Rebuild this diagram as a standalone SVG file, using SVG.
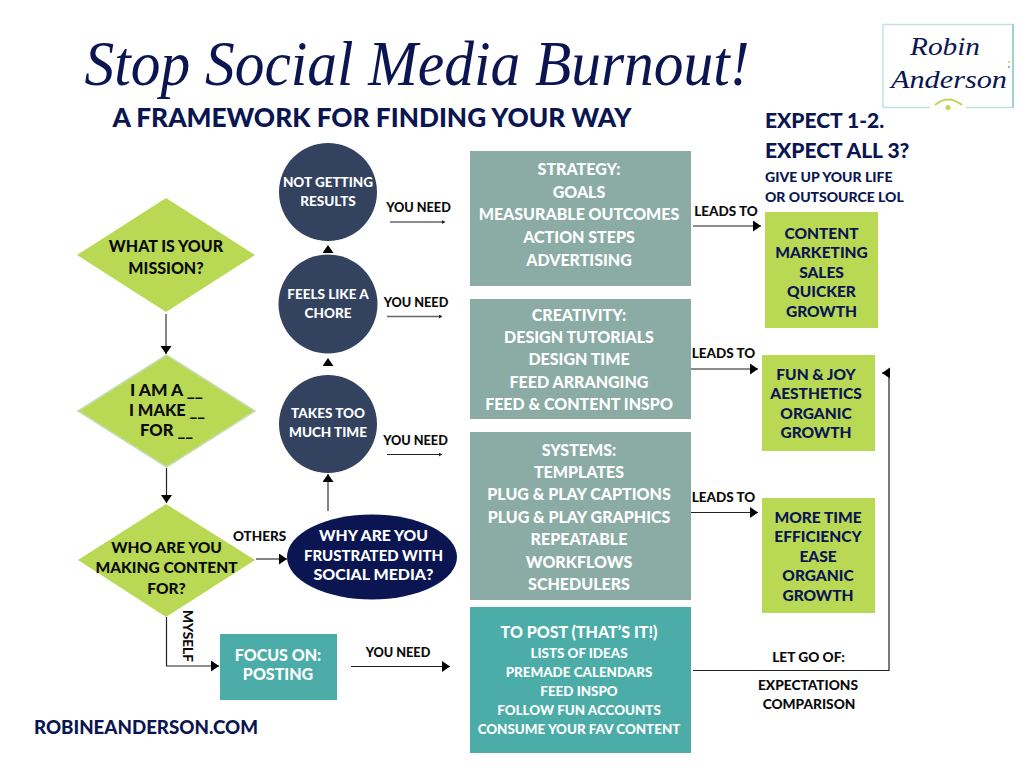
<svg xmlns="http://www.w3.org/2000/svg" width="1024" height="768" viewBox="0 0 1024 768">
<style>
text{font-family:"Lato","Liberation Sans",sans-serif;font-weight:900;text-anchor:middle}
.d{fill:#b9d955}
.dt{font-size:16px;fill:#0b0b0b}
.dw{font-size:15.500px;fill:#0b0b0b}
.c{fill:#33425e}
.ct{font-size:13.500px;fill:#fff}
.r1{fill:#8aaca5}
.r2{fill:#4cada8}
.g{fill:#b9d955}
.wt{font-size:16px;fill:#fff}
.yt{font-size:15.500px;fill:#fff}
.st{font-size:13.400px;fill:#fff}
.gt{font-size:15.500px;fill:#0a1551}
.l{font-size:12.700px;fill:#0b0b0b}
.lead{font-size:13.500px;fill:#0b0b0b}
.x{font-size:13.700px;fill:#0b0b0b}
.n{fill:#0a1551}
.left{text-anchor:start}
.script{font-family:"Liberation Serif",serif;font-style:italic;font-weight:400;fill:#0a1551}
#connectors path{fill:none;stroke:#222;stroke-width:1.200;marker-end:url(#a)}
#connectors path.sm{marker-end:url(#s)}
#connectors path.gr{stroke:#666;stroke-width:1.600}
#connectors path.hd{stroke:none}
</style>
<defs>
<marker id="a" markerUnits="userSpaceOnUse" markerWidth="9" markerHeight="12" refX="8" refY="5.500" orient="auto"><path d="M0 0L8 5.500L0 11Z" fill="#000"/></marker>
<marker id="s" markerUnits="userSpaceOnUse" markerWidth="4" markerHeight="5" refX="3" refY="2" orient="auto"><path d="M0 0L3 2L0 4Z" fill="#222"/></marker>
</defs>
<rect width="1024" height="768" fill="#fff"/>
<g id="title">
<text class="script" x="417" y="85" textLength="665" lengthAdjust="spacingAndGlyphs" style="font-size:64px">Stop Social Media Burnout!</text>
<text x="372" y="127" textLength="519" lengthAdjust="spacingAndGlyphs" style="font-size:27px;fill:#0a1551">A FRAMEWORK FOR FINDING YOUR WAY</text>
</g>
<g id="logo">
<rect x="883" y="24.500" width="130" height="83" fill="#fff" stroke="#bfe3df" stroke-width="1.500"/>
<rect x="1012" y="24" width="2" height="84" fill="#9ed3ce"/>
<rect x="930" y="100" width="36" height="12" fill="#fff"/>
<text class="script" x="945" y="55" textLength="70" lengthAdjust="spacingAndGlyphs" style="font-size:25px">Robin</text>
<text class="script" x="949" y="88" textLength="116" lengthAdjust="spacingAndGlyphs" style="font-size:25px">Anderson</text>
<path d="M935 105Q948 94 962 105" fill="none" stroke="#b9d955" stroke-width="2"/>
<circle cx="948" cy="107.500" r="2.500" fill="#b9d955"/>
<circle cx="1009" cy="62" r="1" fill="#b9d955"/>
<circle cx="1009" cy="67" r="1" fill="#4cada8"/>
</g>
<g id="expect">
<text class="left" x="765" y="128" style="font-size:21px;fill:#0a1551">EXPECT 1-2.</text>
<text class="left" x="765" y="158" style="font-size:21px;fill:#0a1551">EXPECT ALL 3?</text>
<text class="left" x="765" y="182" style="font-size:14px;fill:#0a1551">GIVE UP YOUR LIFE</text>
<text class="left" x="765" y="202" style="font-size:14px;fill:#0a1551">OR OUTSOURCE LOL</text>
</g>
<g id="connectors">
<path class="gr" d="M166 314V354"/>
<path d="M166.500 468V503"/>
<path class="gr" d="M256 559H287"/>
<path d="M166.500 617V666H219"/>
<path class="gr" d="M328 511V474"/>
<path class="hd" d="M328 253V245"/>
<path class="hd" d="M328 366V358"/>
<path class="gr sm" d="M390 222H445"/>
<path class="gr sm" d="M387 316.500H442"/>
<path class="sm" d="M387 454.500H442"/>
<path d="M351 666.500H450"/>
<path class="gr" d="M693 226H761"/>
<path class="gr" d="M691 369H758"/>
<path d="M691 512.500H758"/>
<path d="M693 670.500H889V373H882"/>
</g>
<g id="mission"><path class="d" d="M77 255L166 198L255 255L166 312Z"/><text class="dt" x="166" y="252">WHAT IS YOUR</text><text class="dt" x="166" y="274">MISSION?</text></g>
<g id="iam"><path class="d" d="M78 411L166.500 355L255 411L166.500 467Z" stroke="#c5dcb0" stroke-width="1.500"/><text class="dt" x="166.500" y="396" textLength="73" lengthAdjust="spacingAndGlyphs">I AM A __</text><text class="dt" x="167" y="416" textLength="76" lengthAdjust="spacingAndGlyphs">I MAKE __</text><text class="dt" x="166.500" y="436" textLength="53" lengthAdjust="spacingAndGlyphs">FOR __</text></g>
<g id="who"><path class="d" d="M78 560L166 504L255 560L166 617Z"/><text class="dw" x="166.500" y="553">WHO ARE YOU</text><text class="dw" x="166.500" y="573">MAKING CONTENT</text><text class="dw" x="166.500" y="594">FOR?</text></g>
<g id="results"><circle class="c" cx="328" cy="192" r="49"/><text class="ct" x="328" y="187">NOT GETTING</text><text class="ct" x="328" y="206">RESULTS</text></g>
<g id="chore"><circle class="c" cx="328" cy="304" r="49.500"/><text class="ct" x="328" y="299">FEELS LIKE A</text><text class="ct" x="328" y="318">CHORE</text></g>
<g id="time"><circle class="c" cx="328" cy="424" r="49"/><text class="ct" x="328" y="418">TAKES TOO</text><text class="ct" x="328" y="437">MUCH TIME</text></g>
<g id="why"><ellipse class="n" cx="372" cy="557" rx="85" ry="42.500"/><text class="yt" x="373.500" y="541" textLength="109" lengthAdjust="spacingAndGlyphs">WHY ARE YOU</text><text class="yt" x="373.500" y="561" textLength="139" lengthAdjust="spacingAndGlyphs">FRUSTRATED WITH</text><text class="yt" x="373.500" y="580" textLength="120" lengthAdjust="spacingAndGlyphs">SOCIAL MEDIA?</text></g>
<g id="strategy"><rect class="r1" x="470" y="151" width="221" height="135"/><text class="wt" x="579" y="175">STRATEGY:</text><text class="wt" x="579" y="198">GOALS</text><text class="wt" x="579" y="220">MEASURABLE OUTCOMES</text><text class="wt" x="579" y="243">ACTION STEPS</text><text class="wt" x="579" y="266">ADVERTISING</text></g>
<g id="creativity"><rect class="r1" x="470" y="299" width="221" height="120"/><text class="wt" x="579" y="321">CREATIVITY:</text><text class="wt" x="579" y="343">DESIGN TUTORIALS</text><text class="wt" x="579" y="365">DESIGN TIME</text><text class="wt" x="579" y="388">FEED ARRANGING</text><text class="wt" x="579" y="410">FEED &amp; CONTENT INSPO</text></g>
<g id="systems"><rect class="r1" x="470" y="432" width="221" height="168"/><text class="wt" x="579" y="456">SYSTEMS:</text><text class="wt" x="579" y="478">TEMPLATES</text><text class="wt" x="579" y="500">PLUG &amp; PLAY CAPTIONS</text><text class="wt" x="579" y="523">PLUG &amp; PLAY GRAPHICS</text><text class="wt" x="579" y="545">REPEATABLE</text><text class="wt" x="579" y="568">WORKFLOWS</text><text class="wt" x="579" y="590">SCHEDULERS</text></g>
<g id="post"><rect class="r2" x="470" y="607" width="221" height="146"/><text class="wt" x="579" y="638">TO POST (THAT’S IT!)</text><text class="st" x="579" y="658">LISTS OF IDEAS</text><text class="st" x="579" y="677">PREMADE CALENDARS</text><text class="st" x="579" y="696">FEED INSPO</text><text class="st" x="579" y="715">FOLLOW FUN ACCOUNTS</text><text class="st" x="579" y="734">CONSUME YOUR FAV CONTENT</text></g>
<g id="focus"><rect class="r2" x="220" y="634" width="117" height="66"/><text class="wt" x="278" y="661">FOCUS ON:</text><text class="wt" x="278" y="680">POSTING</text></g>
<g id="content"><rect class="g" x="765" y="212" width="113" height="116"/><text class="gt" x="821.500" y="239">CONTENT</text><text class="gt" x="821.500" y="258">MARKETING</text><text class="gt" x="821.500" y="278">SALES</text><text class="gt" x="821.500" y="297">QUICKER</text><text class="gt" x="821.500" y="317">GROWTH</text></g>
<g id="fun"><rect class="g" x="762" y="355" width="113" height="96"/><text class="gt" x="816" y="380">FUN &amp; JOY</text><text class="gt" x="816" y="399">AESTHETICS</text><text class="gt" x="816" y="419">ORGANIC</text><text class="gt" x="816" y="438">GROWTH</text></g>
<g id="more"><rect class="g" x="762" y="498" width="113" height="115"/><text class="gt" x="818" y="523">MORE TIME</text><text class="gt" x="818" y="542">EFFICIENCY</text><text class="gt" x="818" y="562">EASE</text><text class="gt" x="818" y="581">ORGANIC</text><text class="gt" x="818" y="601">GROWTH</text></g>
<g id="labels">
<text class="l" x="418.500" y="212">YOU NEED</text>
<text class="l" x="416" y="307">YOU NEED</text>
<text class="l" x="415.500" y="445">YOU NEED</text>
<text class="l" x="398" y="657">YOU NEED</text>
<text class="lead" x="726" y="216">LEADS TO</text>
<text class="lead" x="723.500" y="358">LEADS TO</text>
<text class="lead" x="723.500" y="502">LEADS TO</text>
<text class="lead" x="259.500" y="541">OTHERS</text>
<text class="l" transform="translate(183 610) rotate(90)" style="text-anchor:start" textLength="52" lengthAdjust="spacingAndGlyphs">MYSELF</text>
<text class="x" x="808.500" y="662">LET GO OF:</text>
<text class="x" x="808" y="690">EXPECTATIONS</text>
<text class="x" x="809" y="709">COMPARISON</text>
<text x="146" y="734" style="font-size:18.700px;fill:#0a1551">ROBINEANDERSON.COM</text>
</g>
</svg>
